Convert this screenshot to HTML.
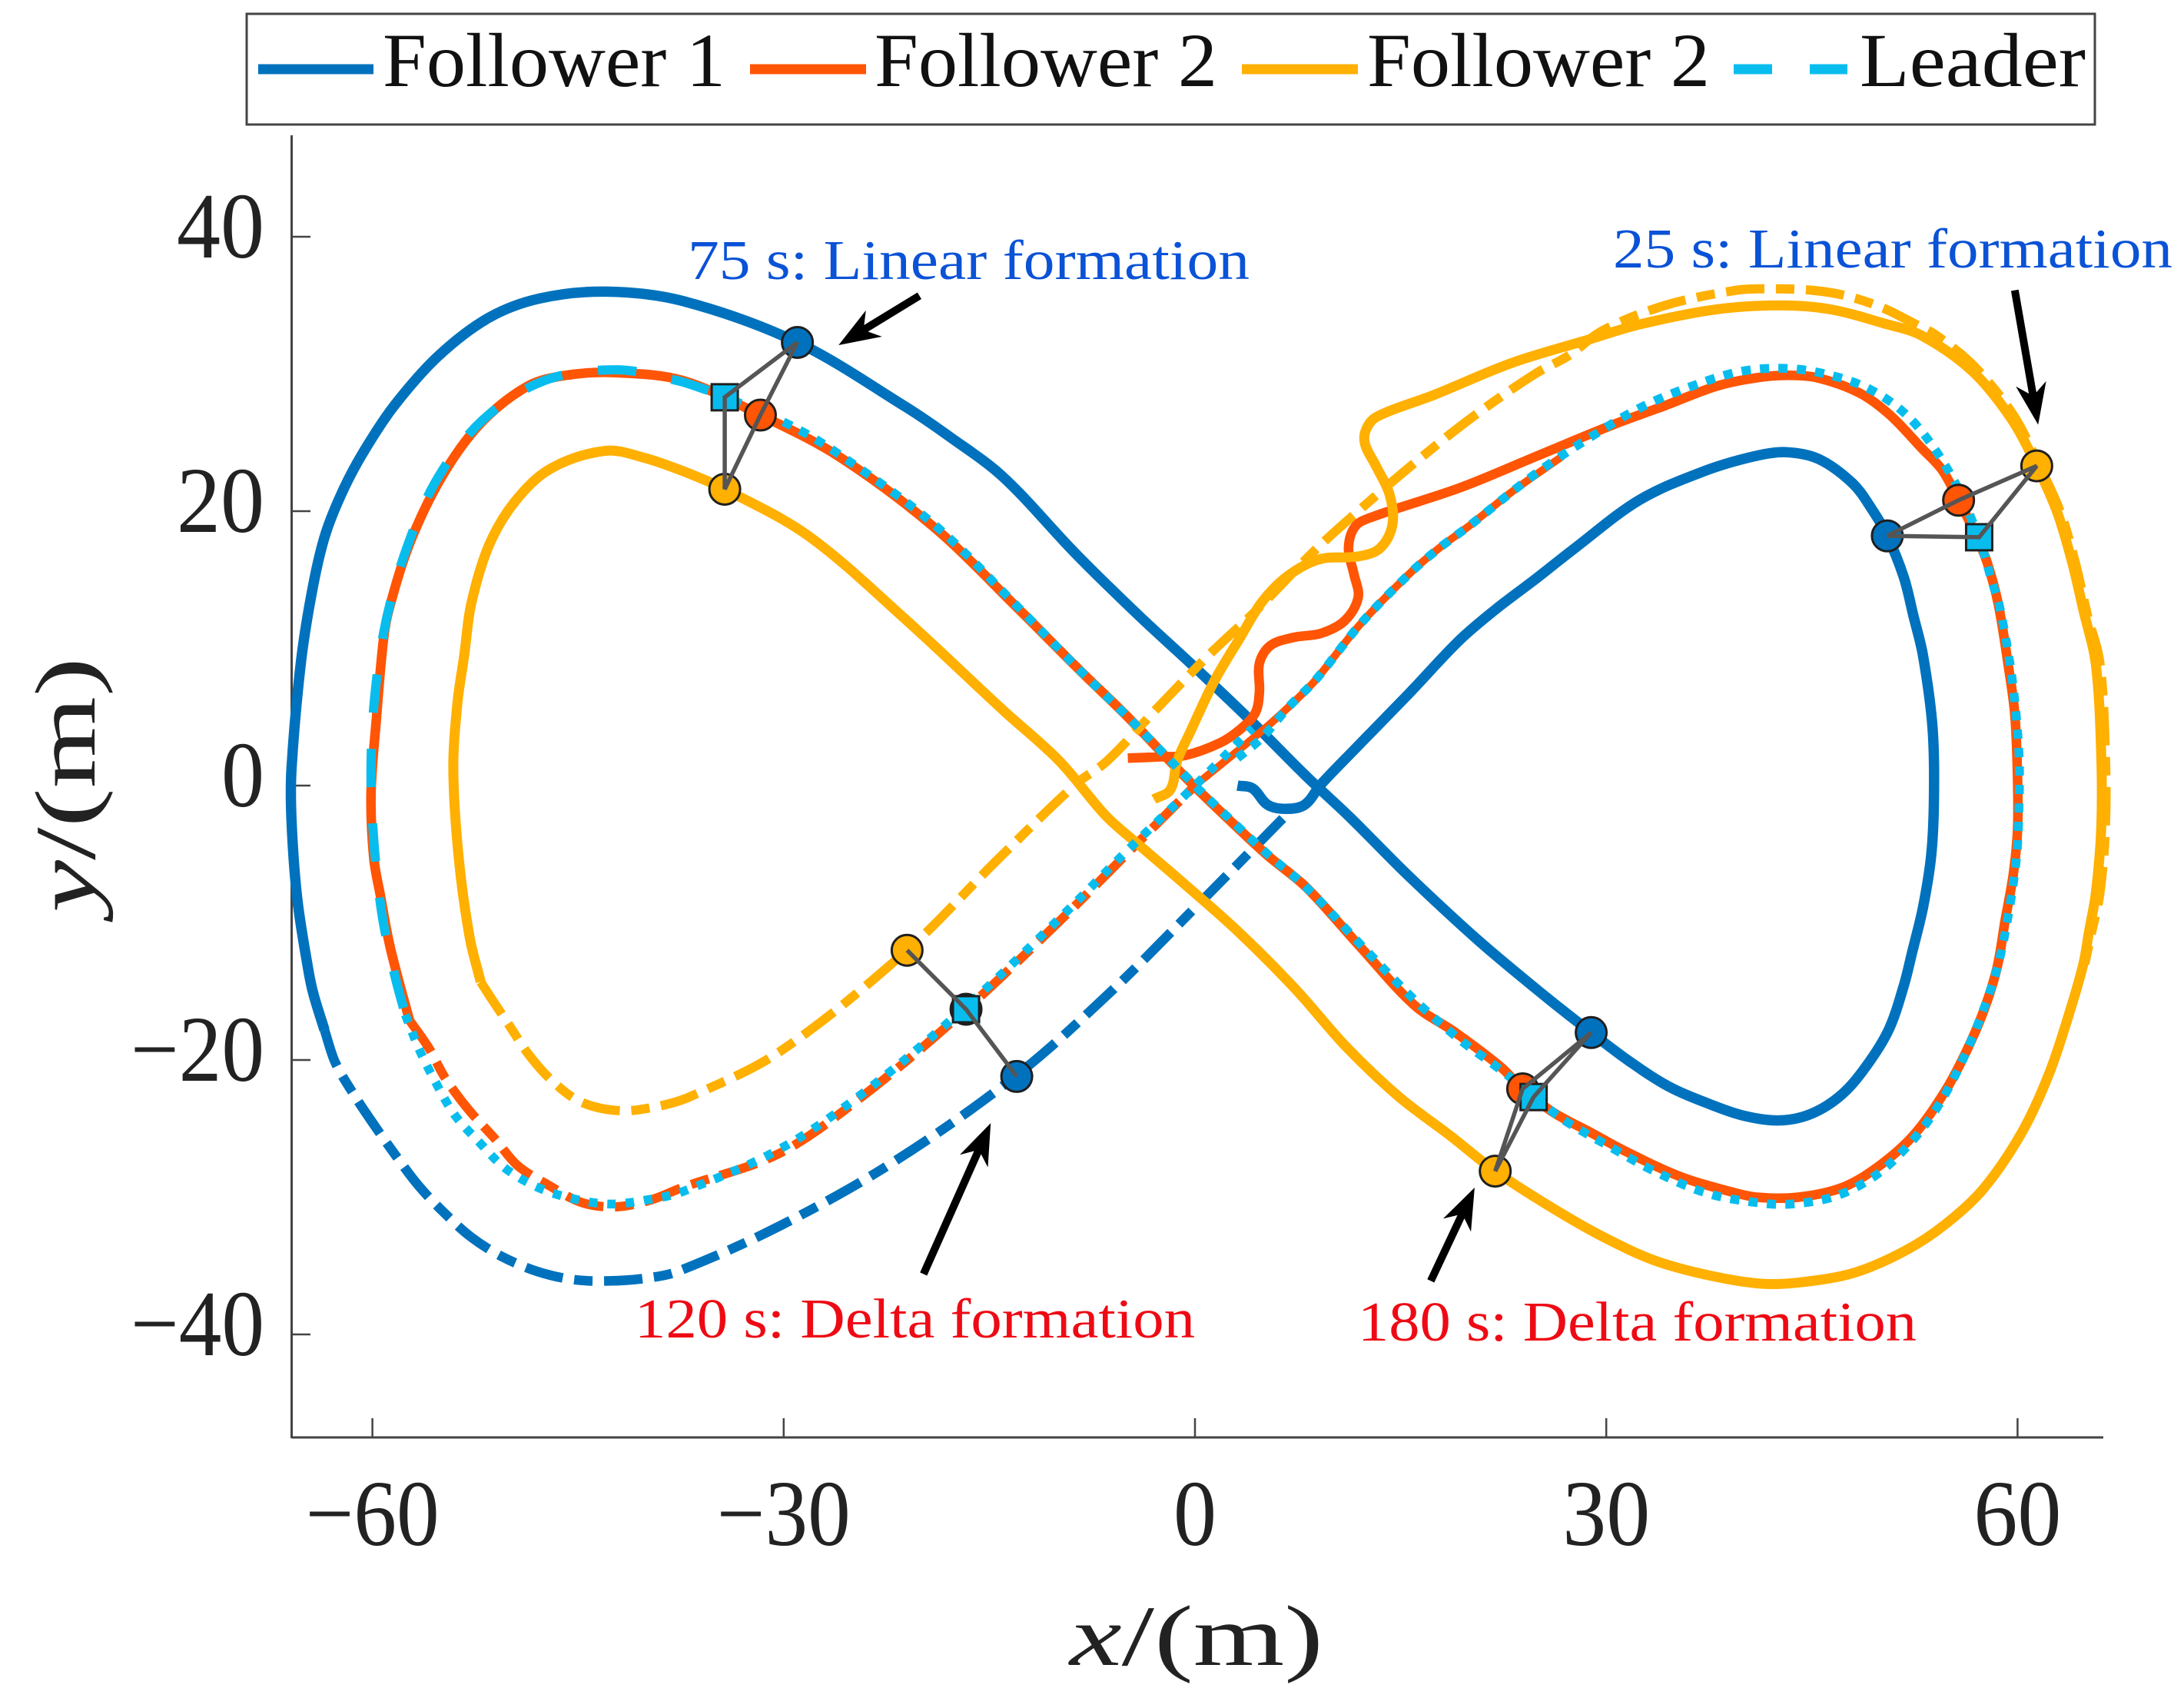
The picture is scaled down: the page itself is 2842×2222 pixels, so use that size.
<!DOCTYPE html>
<html lang="en">
<head>
<meta charset="utf-8">
<title>Formation trajectories</title>
<style>
html,body{margin:0;padding:0;background:#fff;}
svg{display:block;}
text{font-family:"Liberation Serif",serif;}
</style>
</head>
<body>
<svg id="chart" xmlns="http://www.w3.org/2000/svg" width="2842" height="2222" viewBox="0 0 2842 2222">
  <rect x="0" y="0" width="2842" height="2222" fill="#fff"/>
  <g id="axes"></g>
  <g id="series"></g>
  <g id="formations"></g>
  <g id="arrows"></g>
  <g font-size="73">
    <text x="895" y="363" fill="#0a52d6" textLength="731" lengthAdjust="spacingAndGlyphs">75 s: Linear formation</text>
    <text x="2099" y="348" fill="#0a52d6" textLength="728" lengthAdjust="spacingAndGlyphs">25 s: Linear formation</text>
    <text x="826" y="1740" fill="#ee0a14" textLength="729" lengthAdjust="spacingAndGlyphs">120 s: Delta formation</text>
    <text x="1767" y="1744" fill="#ee0a14" textLength="727" lengthAdjust="spacingAndGlyphs">180 s: Delta formation</text>
  </g>
  <text x="1392" y="2166" font-size="112" fill="#222" textLength="330" lengthAdjust="spacingAndGlyphs"><tspan font-style="italic">x</tspan>/(m)</text>
  <text transform="translate(123,1187) rotate(-90)" font-size="112" fill="#222" textLength="332" lengthAdjust="spacingAndGlyphs"><tspan font-style="italic">y</tspan>/(m)</text>
  <g>
    <rect x="321" y="18" width="2405" height="144" fill="#fff" stroke="#444" stroke-width="3"/>
    <line x1="336" y1="90" x2="486" y2="90" stroke="#0072bd" stroke-width="13"/>
    <text x="498" y="112" font-size="100" fill="#111" textLength="446" lengthAdjust="spacingAndGlyphs">Follower 1</text>
    <line x1="976" y1="90" x2="1127" y2="90" stroke="#ff5505" stroke-width="13"/>
    <text x="1138" y="112" font-size="100" fill="#111" textLength="446" lengthAdjust="spacingAndGlyphs">Follower 2</text>
    <line x1="1616" y1="90" x2="1767" y2="90" stroke="#ffb000" stroke-width="13"/>
    <text x="1779" y="112" font-size="100" fill="#111" textLength="446" lengthAdjust="spacingAndGlyphs">Follower 2</text>
    <line x1="2256" y1="90" x2="2404" y2="90" stroke="#08bdee" stroke-width="13" stroke-dasharray="50 49"/>
    <text x="2420" y="112" font-size="100" fill="#111" textLength="294" lengthAdjust="spacingAndGlyphs">Leader</text>
  </g>
</svg>
<script>
// Axis ticks
const xTicks = [-60, -30, 0, 30, 60];
const yTicks = [-40, -20, 0, 20, 40];

// Trajectories in metres, [x, y]
const follower1Solid = [[3.1,0],[4.2,-0.2],[5.3,-1.4],[6.6,-1.7],[8,-1.4],[9.2,0.1],[11.9,2.9],[15.6,6.7],[19.3,10.6],[22,12.9],[24.9,15.1],[27.7,17.3],[32.4,20.8],[37.1,22.9],[40.8,24],[43.1,24.3],[45.5,23.8],[48,22],[49.4,20.1],[50.5,18.2],[51.7,15.2],[52.4,12.4],[53.1,9.5],[53.8,4.2],[53.9,-1],[53.7,-5.1],[53.1,-8.9],[52.3,-12.2],[51.7,-14.6],[50.6,-17.8],[49,-20.4],[47.2,-22.5],[45,-23.9],[42.7,-24.4],[40.2,-24.1],[37.5,-23.2],[34.5,-21.9],[31.7,-20.1],[28.9,-18],[25.6,-15.4],[20.8,-11.4],[15.6,-6.6],[11.3,-2.3],[8.1,0.7],[3.8,5],[-0.1,8.7],[-4,12.3],[-8.7,16.9],[-14,22.5],[-18,25.5],[-21.1,27.6],[-29,32.3],[-37.3,35.3],[-42.9,36],[-47.8,35.5],[-51.5,34.1],[-55.2,31.3],[-58.4,27.7],[-60.6,24.4],[-62.1,21.6],[-63.4,18.4],[-64.3,14.7],[-65.2,9.1],[-65.9,1.2],[-65.9,-2.5],[-65.5,-8.1],[-64.7,-13.3],[-64.3,-15.2],[-63.5,-17.8]];
const follower1Dash = [[-63.5,-17.8],[-62.7,-20.2],[-61.3,-22.6],[-59.9,-24.7],[-58.2,-27.1],[-56.6,-29.2],[-54.8,-31.1],[-52.8,-32.9],[-50.6,-34.3],[-48,-35.4],[-45.4,-36],[-42.7,-36.1],[-40,-35.9],[-37.7,-35.4],[-30.3,-32.1],[-22.1,-27.5],[-13,-21.1],[-5.9,-14.8],[0.2,-8.7],[6.4,-2.4]];

const follower2Solid = [[-4.9,2],[-2.5,2.1],[-0.7,2.2],[1.8,3.1],[3.3,4.1],[4.4,5.3],[4.7,6.8],[4.7,8.9],[5.5,10.2],[7.2,10.8],[9.2,11.1],[10.9,12],[11.9,13.7],[11.6,15.4],[11.2,17.3],[11.7,18.9],[13,19.6],[19.3,21.7],[24.9,24],[30.5,26.3],[34.3,27.7],[38,29.1],[40.8,29.7],[43.3,29.9],[45.5,29.7],[48.5,28.6],[50.7,27],[53,24.6],[54.5,23],[55.7,20.8],[56.9,18.4],[57.8,16.2],[58.6,13.2],[59.3,8.9],[59.8,5.2],[60,0.5],[60,-3.2],[59.7,-6.4],[59.1,-9.8],[58.5,-13.3],[57.5,-16.5],[56.2,-19.5],[54.7,-22.3],[52.4,-25.5],[49.8,-27.8],[47.2,-29.3],[44,-30],[41,-30],[39.1,-29.6],[35.4,-28.5],[31.3,-26.6],[28.9,-25.3],[26.1,-23.8],[23.8,-22],[22.3,-20.5],[19,-18],[16,-16],[12,-11.7],[8.1,-7.4],[5.3,-5.1],[2.5,-2.5],[-0.4,0.3],[-4.9,5],[-8.3,8.3],[-13,13],[-19,18.8],[-26,24],[-31.7,27],[-37.3,29.5],[-42.3,30.1],[-45.9,29.9],[-48.7,29.1],[-52.2,26.3],[-55,22.4],[-57.3,17.6],[-58.8,12.8],[-59.2,10.6],[-59.7,5],[-60.1,-0.6],[-59.9,-5.3],[-59.4,-8.1],[-58.7,-11.8],[-57.3,-17.1]];
const follower2Dash = [[-57.3,-17.1],[-55.9,-19.1],[-54.7,-21.3],[-53,-23.6],[-51.1,-25.7],[-49.4,-27.7],[-47.2,-29.1],[-44.7,-30.4],[-42.2,-30.7],[-39.7,-30.2],[-37.4,-29.3],[-30.3,-26.8],[-24.2,-22.6],[-16.8,-16.4],[-9.9,-9.9],[-4.9,-4.9],[0,0]];
const follower2Tail = [[0,0],[4.9,4],[6.8,5.7],[8.8,7.7],[12,11.7],[15.6,15.4],[17.8,17.3],[20.1,19],[23.1,21.4],[26.8,24]];

const follower3Solid = [[-3,-1],[-1.8,-0.3],[-1.3,1.8],[-0.3,4],[1.4,7.6],[3.3,10.8],[4.9,13.4],[6.8,15.3],[9.1,16.5],[11.9,16.7],[13.5,17.3],[14.4,19],[14.2,21.2],[13.2,23.3],[12.4,24.9],[12.5,26],[13.3,26.9],[17.5,28.5],[23.1,30.8],[28.7,32.5],[32.4,33.6],[38,34.7],[42.7,35],[46.4,34.7],[50.2,33.7],[53,32.8],[56.7,30.2],[59.5,26.8],[61.4,23.3],[62.9,19.9],[64,16.2],[64.8,12.8],[65.7,8.9],[66.1,2.4],[66.1,-3.2],[65.7,-7.9],[65.2,-10.7],[64.8,-13],[63.8,-16.5],[62.3,-21],[60.3,-25.3],[57.5,-29.4],[54.7,-32],[51.8,-33.9],[48.1,-35.5],[44.2,-36.2],[41.3,-36.3],[37.5,-35.7],[33.5,-34.6],[29.8,-32.9],[26.1,-30.8],[21.9,-28.1],[18.6,-25.5],[14.9,-22.7],[11,-19],[7.3,-14.8],[3,-10.5],[-1.2,-6.8],[-4,-4.4],[-6.5,-2.2],[-9.9,1.8],[-14,5.5],[-21.1,12.1],[-28.2,18.2],[-34.3,21.6],[-37.3,22.9],[-40.2,23.9],[-43,24.4],[-47,23.1],[-49.6,20.7],[-51.5,17.5],[-52.8,13.2],[-53.3,9.5],[-53.8,6],[-54.1,1.2],[-53.7,-5.3],[-52.9,-11.1],[-52.1,-14.3]];
const follower3Dash = [[-52.1,-14.3],[-51.4,-15.4],[-50,-17.5],[-48.6,-19.6],[-46.8,-21.6],[-44.7,-23.1],[-41.9,-23.7],[-39.3,-23.4],[-36.9,-22.7],[-30.3,-19.4],[-21,-12],[-14.5,-5.5],[-8.7,0.1],[-6.4,1.8],[-2.7,5.7],[1.1,9.6],[4.5,12.8],[8.7,17.1],[11.9,20],[16,23.5],[20.3,26.9],[24.8,30],[27.2,31.3],[29.8,33.2],[34.3,35],[39.5,36.1],[42.2,36.2],[45,36.1],[47.5,35.7],[50.2,34.8],[52.6,33.6],[54.1,32.8],[56.9,30.5],[59.7,27],[61.5,23.5],[63.1,20],[64.2,16.3],[65.1,12.4],[66,9],[66.4,2.4],[66.4,-3.2],[66,-7.9],[65.4,-10.7],[64.9,-13]];

const leaderShortA = [[3.1,2],[4.9,3.5],[6.8,5.7],[8.8,7.7],[12,11.7],[15.6,15.4],[17.8,17.3],[20.1,19],[23.1,21.4],[25.5,23.2],[28.7,25.3],[32.4,27.5],[36.2,29.1],[39.9,30.2],[43.3,30.4],[46.4,29.9],[49.2,28.9],[51.7,27.2],[53.7,24.9],[55.6,21.8],[56.7,19.3],[57.2,18.1],[58.1,15],[58.7,13],[59.6,7.8],[60.1,2.4],[60.1,-1.7],[59.9,-5.5],[59.1,-10.7],[58.4,-13.7],[57.3,-16.9],[55.9,-20.2],[54.3,-23.2],[52.4,-25.8],[49.8,-28.3],[46.8,-29.9],[43.5,-30.5],[41,-30.4],[37.3,-29.7],[33.5,-28.1],[30.4,-26.4],[26.8,-24.3],[24.7,-22.6],[22,-20.5],[19.3,-18.5],[16,-15.6],[12,-11.5],[8.1,-7.4],[5.3,-5],[2.5,-2.4],[0,0],[-4.9,5],[-8.3,8.3],[-13,13.1],[-19,19],[-26.2,24.3],[-30,26.5],[-35.5,28.8]];
const leaderLong = [[-35.5,28.8],[-37.7,29.5],[-42.2,30.3],[-47.5,29.5],[-52,26.6],[-55.3,22.3],[-57.5,17.3],[-59,12],[-59.8,6.8],[-60.1,1.4],[-59.9,-4],[-59.3,-9.4],[-58.4,-13.7],[-57.6,-16.7]];
const leaderShortB = [[-57.6,-16.7],[-56.6,-19.2],[-55.4,-21.6],[-54,-24],[-52.2,-26],[-50.3,-27.9],[-47.9,-29.3],[-45.4,-30.1],[-42.7,-30.5],[-40,-30.2],[-37.4,-29.6],[-30.3,-26.5],[-24.2,-22.4],[-16.8,-16.2],[-9.9,-9.7],[-4.9,-4.7],[0,0],[4.2,4.2]];

// Formation snapshots at 25 s, 75 s, 120 s and 180 s
const formationF1 = [[50.5,18.2],[-29,32.3],[-13,-21.2],[28.9,-18]];
const formationF2 = [[55.7,20.8],[-31.7,27],[-16.7,-16.3],[23.9,-22.1]];
const formationF3 = [[61.4,23.3],[-34.3,21.6],[-21,-12],[21.9,-28.1]];
const formationLeader = [[57.2,18.1],[-34.3,28.3],[-16.7,-16.3],[24.7,-22.7]];

// Callout arrows: tail and tip, metres
const arrowTails = [[59.8,36.1],[-20.1,35.7],[-19.8,-35.6],[17.2,-36.1]];
const arrowTips = [[61.5,26.3],[-26,32.1],[-14.9,-24.6],[20.4,-29.3]];

const NS = 'http://www.w3.org/2000/svg';
const sx = v => 1555 + 17.84 * v;
const sy = v => 1022 - 17.85 * v;

function add(parent, tag, attrs, text) {
  const el = document.createElementNS(NS, tag);
  for (const k in attrs) el.setAttribute(k, attrs[k]);
  if (text !== undefined) el.textContent = text;
  parent.appendChild(el);
  return el;
}

// Spline whose handles scale with segment length, so uneven point spacing does not kink the curve
function smoothPath(pts) {
  const p = pts.map(d => [sx(d[0]), sy(d[1])]);
  const n = p.length;
  const dist = (a, b) => Math.hypot(a[0] - b[0], a[1] - b[1]);
  const tangent = i => {
    const a = p[Math.max(i - 1, 0)], b = p[Math.min(i + 1, n - 1)];
    const l = dist(a, b) || 1;
    return [(b[0] - a[0]) / l, (b[1] - a[1]) / l];
  };
  let s = 'M' + p[0][0].toFixed(1) + ' ' + p[0][1].toFixed(1);
  for (let i = 0; i < n - 1; i++) {
    const h = dist(p[i], p[i + 1]) / 3, t0 = tangent(i), t1 = tangent(i + 1);
    s += 'C' + (p[i][0] + t0[0] * h).toFixed(1) + ' ' + (p[i][1] + t0[1] * h).toFixed(1) + ' ' +
      (p[i + 1][0] - t1[0] * h).toFixed(1) + ' ' + (p[i + 1][1] - t1[1] * h).toFixed(1) + ' ' +
      p[i + 1][0].toFixed(1) + ' ' + p[i + 1][1].toFixed(1);
  }
  return s;
}

const axes = document.getElementById('axes');
const AXIS = '#444';
const xAxisLine = add(axes, 'line', {x1: 379.5, y1: 1870, x2: 2737, y2: 1870, stroke: AXIS, 'stroke-width': 3});


const yAxisLine = add(axes, 'line', {x1: 379.5, y1: 176, x2: 379.5, y2: 1871, stroke: AXIS, 'stroke-width': 3});



xTicks.forEach(v => {
  const tick = add(axes, 'line', {x1: sx(v), y1: 1870, x2: sx(v), y2: 1845, stroke: AXIS, 'stroke-width': 2.5});
  
  
  const label = v < 0 ? '\u2212' + (-v) : String(v);
  const w = v < 0 ? 174 : (v === 0 ? 56 : 114);
  const t = add(axes, 'text', {x: sx(v) - w / 2, y: 2010, 'font-size': 122, fill: '#222', textLength: w, lengthAdjust: 'spacingAndGlyphs'}, label);
  
  
});

yTicks.forEach(v => {
  const tick = add(axes, 'line', {x1: 379.5, y1: sy(v), x2: 404, y2: sy(v), stroke: AXIS, 'stroke-width': 2.5});
  
  
  const label = v < 0 ? '\u2212' + (-v) : String(v);
  const w = v < 0 ? 174 : (v === 0 ? 56 : 114);
  const t = add(axes, 'text', {x: 344 - w, y: sy(v) + 27, 'font-size': 122, fill: '#222', textLength: w, lengthAdjust: 'spacingAndGlyphs'}, label);
  
  
});

const series = document.getElementById('series');
const DASHDOT = '50 15 24 15';
function drawTrace(pts, color, dash, width, name) {
  const attrs = {d: smoothPath(pts), fill: 'none', stroke: color, 'stroke-width': width, 'stroke-linejoin': 'round'};
  if (dash) attrs['stroke-dasharray'] = dash;
  const path = add(series, 'path', attrs);
  
  
}
drawTrace(follower1Dash, '#0072bd', DASHDOT, 12.5, 'follower-1-reference');
drawTrace(follower1Solid, '#0072bd', null, 13.5, 'follower-1-trajectory');
drawTrace(follower2Dash, '#ff5505', DASHDOT, 12, 'follower-2-reference');
drawTrace(follower2Tail, '#ff5505', null, 10, 'follower-2-reference-tail');
drawTrace(follower2Solid, '#ff5505', null, 12.5, 'follower-2-trajectory');
drawTrace(follower3Dash, '#ffb000', DASHDOT, 12, 'follower-3-reference');
drawTrace(follower3Solid, '#ffb000', null, 13, 'follower-3-trajectory');
drawTrace(leaderShortA, '#08bdee', '12 12', 11.5, 'leader-trajectory-a');
drawTrace(leaderLong, '#08bdee', '50 47', 12, 'leader-trajectory-b');
drawTrace(leaderShortB, '#08bdee', '11 13', 11.5, 'leader-trajectory-c');

const formations = document.getElementById('formations');
formationF1.forEach((_, i) => {
  const a = formationF1[i], b = formationF2[i], c = formationF3[i], l = formationLeader[i];
  [[a, '#0072bd', 'marker-follower-1'], [b, '#ff5505', 'marker-follower-2'], [c, '#ffb000', 'marker-follower-3']].forEach(m => {
    const dot = add(formations, 'circle', {cx: sx(m[0][0]), cy: sy(m[0][1]), r: 20, fill: m[1], stroke: '#1f1f1f', 'stroke-width': 3});
    
    
  });
  const sq = add(formations, 'rect', {x: sx(l[0]) - 17, y: sy(l[1]) - 17, width: 34, height: 34, fill: '#08bdee', stroke: '#1f1f1f', 'stroke-width': 3});
  
  
  const points = [a, b, c, l].map(d => sx(d[0]).toFixed(1) + ',' + sy(d[1]).toFixed(1)).join(' ');
  const link = add(formations, 'polygon', {points: points, fill: 'none', stroke: '#555', 'stroke-width': 5.5, 'stroke-linejoin': 'miter'});
  
  
});

const arrows = document.getElementById('arrows');
arrowTails.forEach((tail, i) => {
  const x0 = sx(tail[0]), y0 = sy(tail[1]), x1 = sx(arrowTips[i][0]), y1 = sy(arrowTips[i][1]);
  const len = Math.hypot(x1 - x0, y1 - y0), ux = (x1 - x0) / len, uy = (y1 - y0) / len, nx = -uy, ny = ux;
  const shaft = add(arrows, 'line', {x1: x0, y1: y0, x2: x1 - ux * 30, y2: y1 - uy * 30, stroke: '#000', 'stroke-width': 10});
  
  
  const pt = (back, side) => (x1 - ux * back + nx * side).toFixed(1) + ',' + (y1 - uy * back + ny * side).toFixed(1);
  const head = add(arrows, 'polygon', {points: [pt(0, 0), pt(54, 20), pt(38, 0), pt(54, -20)].join(' '), fill: '#000'});
  
  
});
</script>
</body>
</html>
